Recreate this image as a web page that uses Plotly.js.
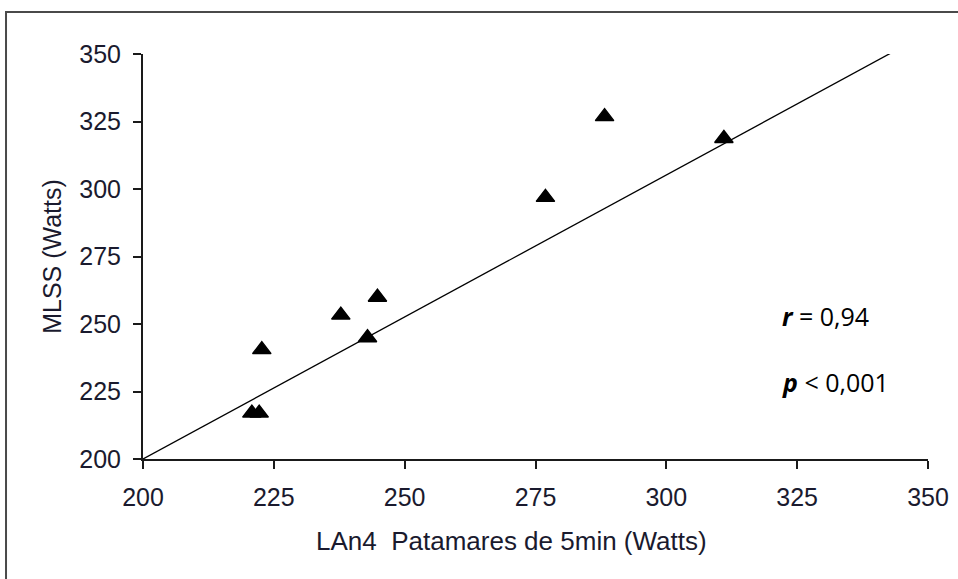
<!DOCTYPE html>
<html>
<head>
<meta charset="utf-8">
<script src="https://cdn.plot.ly/plotly-3.0.1.min.js"></script>
<style>
  html, body { margin: 0; padding: 0; background: #ffffff; }
  #chart { width: 958px; height: 579px; }
</style>
</head>
<body>
<div id="chart"></div>
<script>
// Data
var lan4Watts = [220.8, 222.2, 222.7, 237.8, 242.9, 244.8, 276.9, 288.2, 311.0];
var mlssWatts = [217.0, 217.0, 240.5, 253.3, 244.9, 259.9, 296.9, 326.8, 318.7];
var fitX = [200, 344];
var fitY = [200, 351.5];
var tickValues = [200, 225, 250, 275, 300, 325, 350];
var tickLabels = ['200', '225', '250', '275', '300', '325', '350'];
var xTitle = 'LAn4\u00a0 Patamares de 5min (Watts)';
var yTitle = 'MLSS (Watts)';
var statR = '<b><i>r</i></b> = 0,94';
var statP = '<b><i>p</i></b> < 0,001';

var traces = [
  {
    x: fitX, y: fitY, type: 'scatter', mode: 'lines',
    line: { color: '#000000', width: 1.3 },
    hoverinfo: 'skip', showlegend: false, cliponaxis: false
  },
  {
    x: lan4Watts, y: mlssWatts, type: 'scatter', mode: 'markers',
    marker: { symbol: 'triangle-up', size: 16, color: '#000000',
              line: { color: '#000000', width: 1.4 } },
    showlegend: false, cliponaxis: false
  }
];

var axisCommon = {
  tickmode: 'array', tickvals: tickValues, ticktext: tickLabels,
  showgrid: false, zeroline: false,
  showline: true, linecolor: '#1a1a1a', linewidth: 2,
  ticks: 'outside', ticklen: 8, tickwidth: 2, tickcolor: '#1a1a1a',
  tickfont: { family: 'Liberation Sans, Arial, sans-serif', size: 25, color: '#1a1a2e' },
  range: [200, 350], fixedrange: true
};

var layout = {
  width: 958, height: 579,
  paper_bgcolor: '#ffffff', plot_bgcolor: '#ffffff',
  margin: { l: 143, r: 30, t: 54, b: 120 },
  showlegend: false,
  xaxis: Object.assign({}, axisCommon, {
    ticklabelstandoff: 7
  }),
  yaxis: Object.assign({}, axisCommon, {
    ticklabelstandoff: 7,
    title: { text: yTitle, standoff: 11,
             font: { family: 'Liberation Sans, Arial, sans-serif', size: 25, color: '#1a1a2e' } }
  }),
  annotations: [
    { xref: 'paper', yref: 'paper', x: 0.2175, y: -0.2015, xanchor: 'left', yanchor: 'middle',
      text: xTitle, showarrow: false,
      font: { family: 'Liberation Sans, Arial, sans-serif', size: 26, color: '#1a1a2e' } },
    { xref: 'paper', yref: 'paper', x: 0.812, y: 0.354, xanchor: 'left', yanchor: 'middle',
      text: statR, showarrow: false,
      font: { family: 'Open Sans, sans-serif', size: 25, color: '#000000' } },
    { xref: 'paper', yref: 'paper', x: 0.812, y: 0.191, xanchor: 'left', yanchor: 'middle',
      text: statP, showarrow: false,
      font: { family: 'Open Sans, sans-serif', size: 25, color: '#000000' } }
  ],
  shapes: [
    { type: 'rect', xref: 'paper', yref: 'paper',
      x0: -0.1745, x1: 1.06, y0: -0.32, y1: 1.1037,
      line: { color: '#4a4a4a', width: 2 }, fillcolor: 'rgba(0,0,0,0)', layer: 'below' }
  ]
};

Plotly.newPlot('chart', traces, layout, { displayModeBar: false, staticPlot: true });
</script>
</body>
</html>
